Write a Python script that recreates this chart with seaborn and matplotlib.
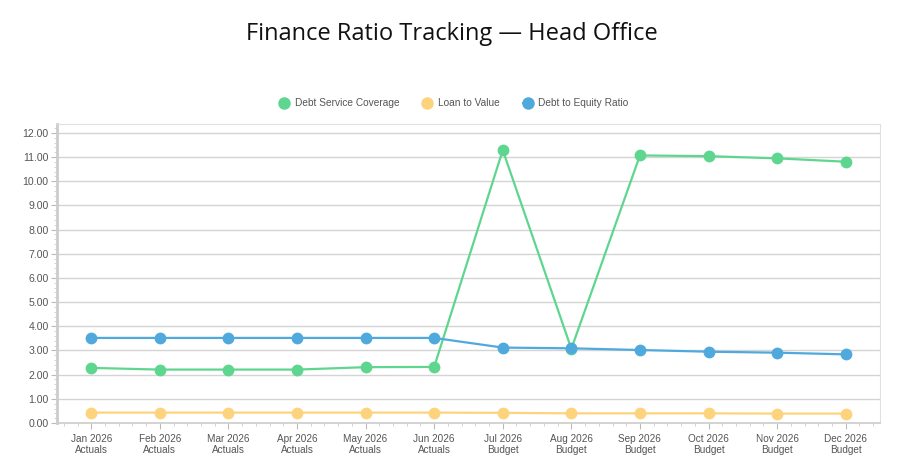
import numpy as np
import pandas as pd
import matplotlib.pyplot as plt
import seaborn as sns
from matplotlib.ticker import MultipleLocator
from matplotlib.lines import Line2D

months = ["Jan 2026", "Feb 2026", "Mar 2026", "Apr 2026", "May 2026", "Jun 2026",
          "Jul 2026", "Aug 2026", "Sep 2026", "Oct 2026", "Nov 2026", "Dec 2026"]
kinds = ["Actuals"] * 6 + ["Budget"] * 6
labels = [f"{m}\n{k}" for m, k in zip(months, kinds)]

debt_service = [2.28, 2.21, 2.21, 2.21, 2.31, 2.32, 11.29, 3.07, 11.07, 11.04, 10.95, 10.81]
loan_to_value = [0.43, 0.43, 0.43, 0.43, 0.43, 0.43, 0.42, 0.40, 0.40, 0.40, 0.39, 0.39]
debt_equity = [3.52, 3.52, 3.52, 3.52, 3.52, 3.52, 3.12, 3.09, 3.02, 2.95, 2.91, 2.84]

series = {
    "Debt Service Coverage": (debt_service, "#5fd68f"),
    "Loan to Value": (loan_to_value, "#fdd47d"),
    "Debt to Equity Ratio": (debt_equity, "#50a9dc"),
}

sns.set_style("white")
plt.rcParams['font.family'] = ['Liberation Sans', 'DejaVu Sans']

fig = plt.figure(figsize=(9.03, 4.71), dpi=100)
ax = fig.add_axes([0.0631, 0.1019, 0.9114, 0.6348])

pos = np.arange(len(labels))
for name, (vals, col) in series.items():
    df = pd.DataFrame({"x": pos, "y": vals})
    sns.lineplot(data=df, x="x", y="y", ax=ax, color=col, linewidth=1.6,
                 marker="o", markersize=8.5, markeredgewidth=0, zorder=3)

ax.set_xlim(-0.5, 11.5)
ax.set_ylim(0, 12.37)
ax.set_xticks(pos)
ax.set_xticklabels(labels, fontsize=7.2, color="#555555", linespacing=1.05)
ax.xaxis.set_minor_locator(MultipleLocator(0.2))
ax.yaxis.set_major_locator(MultipleLocator(1))
ax.yaxis.set_minor_locator(MultipleLocator(0.2))
ax.set_yticklabels([f"{v:.2f}" for v in ax.get_yticks()], fontsize=7.6, color="#555555")
ax.set_xlabel("")
ax.set_ylabel("")

ax.grid(axis="y", which="major", color="#d4d4d4", linewidth=1.0, zorder=0)
ax.tick_params(axis="both", which="major", length=4, color="#bbbbbb", width=0.8)
ax.tick_params(axis="both", which="minor", length=2.5, color="#cccccc", width=0.6)
ax.tick_params(axis="y", which="major", pad=2)
ax.tick_params(axis="x", which="major", pad=4)
ax.tick_params(axis="both", which="both", bottom=True, left=True)

for side in ["top", "right"]:
    ax.spines[side].set_color("#e0e0e0")
    ax.spines[side].set_linewidth(0.8)
ax.spines["left"].set_color("#cccccc")
ax.spines["left"].set_linewidth(2.0)
ax.spines["bottom"].set_color("#cccccc")
ax.spines["bottom"].set_linewidth(1.2)

handles = [Line2D([0], [0], color=col, marker="o", markersize=9, markeredgewidth=0,
                  linewidth=1.6) for name, (vals, col) in series.items()]
fig.legend(handles, list(series.keys()), loc="center", bbox_to_anchor=(0.503, 0.781),
           ncol=3, frameon=False, fontsize=7.3, labelcolor="#555555",
           handlelength=0.9, columnspacing=2.3, handletextpad=0.6)

fig.text(0.5, 0.928, "Finance Ratio Tracking \u2014 Head Office", ha="center", va="center",
         fontsize=17, color="#111111", family=["Open Sans", "DejaVu Sans"])

fig.savefig("out.png", dpi=100)
